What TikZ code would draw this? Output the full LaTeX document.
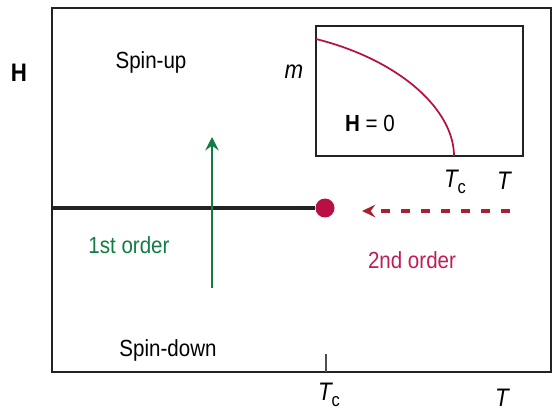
\documentclass[tikz,border=0pt]{standalone}
\usepackage{fontspec}
\setmainfont{Liberation Sans}[FakeStretch=0.88]
\usetikzlibrary{arrows.meta}

\definecolor{ordgreen}{RGB}{18,124,66}
\definecolor{critred}{RGB}{184,16,68}
\definecolor{secred}{RGB}{192,28,88}
\definecolor{dashred}{RGB}{166,34,48}
\definecolor{inkgrey}{RGB}{34,34,34}

\newcommand{\Tcrit}{\textit{T}\raisebox{-0.45ex}{\upshape\fontsize{14}{16}\selectfont c}}

\tikzset{
  lbl/.style={inner sep=0pt, anchor=base, font=\fontsize{17.5}{20}\selectfont},
  axlbl/.style={inner sep=0pt, anchor=base, font=\fontsize{19}{22}\selectfont\itshape},
  framebox/.style={draw=inkgrey, line width=1.9pt},
}

\begin{document}
\begin{tikzpicture}[x=0.75pt,y=-0.75pt]
\useasboundingbox (0,0) rectangle (555,410);

% main phase diagram
\draw[framebox] (52,8) rectangle (551,372);
\node[axlbl, font=\fontsize{19}{22}\selectfont\bfseries] (hAxis) at (19,81) {H};
\node[axlbl] (tAxis) at (502,406) {T};
\node[axlbl] (tcAxis) at (329,400) {\Tcrit};
\coordinate (tickTop) at (326,354);
\coordinate (tickBot) at (326,372);
\draw[inkgrey!80, line width=0.8pt] (tickBot) -- (tickTop);

\node[lbl] (spinUp) at (151,68) {Spin-up};
\node[lbl] (spinDown) at (168,356) {Spin-down};

% coexistence line and critical point
\coordinate (lineStart) at (52,208);
\node[circle, fill=critred, inner sep=0pt, minimum size=14.25pt] (cp) at (325,208) {};
\draw[inkgrey, line width=2.6pt] (lineStart) -- (cp);

% first order crossing
\coordinate (greenTail) at (212,288);
\coordinate (greenHead) at (212,137);
\draw[ordgreen, line width=1.6pt, -{Stealth[length=10pt, width=10pt, inset=3.5pt]}] (greenTail) -- (greenHead);
\node[lbl, text=ordgreen] (firstOrder) at (129,253) {1st order};

% second order approach
\coordinate (dashStart) at (510,211);
\coordinate (dashEnd) at (362,211);
\draw[dashred, line width=2.4pt, dash pattern=on 6.75pt off 8.25pt,
      -{Stealth[length=10pt, width=9.5pt, inset=3.5pt]}] (dashStart) -- (dashEnd);
\node[lbl, text=secred] (secondOrder) at (412,268) {2nd order};

% inset: magnetisation at zero field
\draw[framebox, line width=1.7pt] (316,26) rectangle (523,156);
\coordinate (mStart) at (316,39);
\coordinate (mEnd) at (454,156);
\draw[critred, line width=1.3pt] (mStart) .. controls (400,60) and (454,110) .. (mEnd);
\node[axlbl] (mAxis) at (294,78) {m};
\node[lbl] (hZero) at (370,131) {\textbf{H} = 0};
\node[axlbl] (tcInset) at (455,187) {\Tcrit};
\node[axlbl] (tInset) at (504,189) {T};
\end{tikzpicture}
\end{document}
